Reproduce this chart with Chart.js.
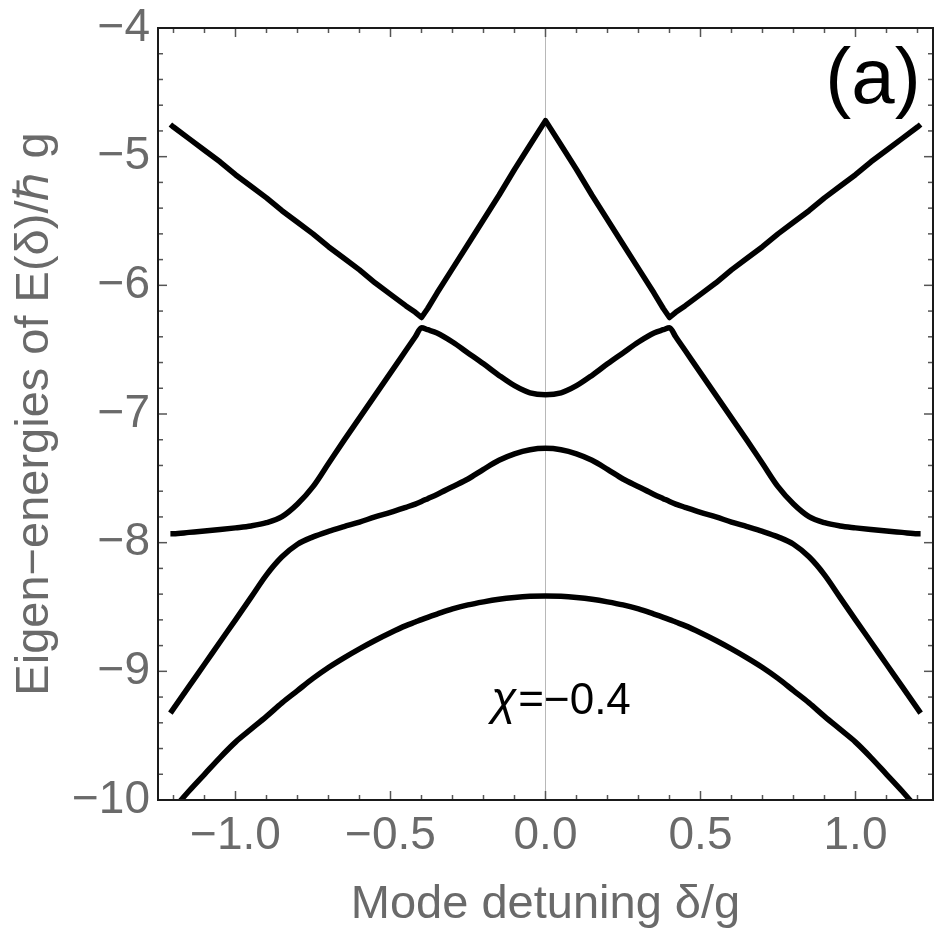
<!DOCTYPE html>
<html>
<head>
<meta charset="utf-8">
<script src="https://cdn.jsdelivr.net/npm/chart.js@4.4.1/dist/chart.umd.min.js"></script>
<style>
  html, body { margin: 0; padding: 0; background: #fff; }
  #wrap { width: 938px; height: 936px; }
</style>
</head>
<body>
<div id="wrap"><canvas id="energyChart" width="938" height="936"></canvas></div>
<script>
// mode detuning delta/g where the four eigen-energy curves were read
const detuning = [-1.21, -1.2, -1.15, -1.1, -1.05, -1.0, -0.95, -0.9, -0.85, -0.8, -0.75, -0.7, -0.65,
  -0.6, -0.55, -0.5, -0.45, -0.42, -0.4, -0.38, -0.35, -0.3, -0.25, -0.2, -0.15, -0.1, -0.05, 0,
  0.05, 0.1, 0.15, 0.2, 0.25, 0.3, 0.35, 0.38, 0.4, 0.42, 0.45, 0.5, 0.55, 0.6, 0.65, 0.7, 0.75,
  0.8, 0.85, 0.9, 0.95, 1.0, 1.05, 1.1, 1.15, 1.2, 1.21];

// E(delta)/hbar g, highest level first
const level1 = [-4.75, -4.77, -4.86, -4.95, -5.04, -5.14, -5.23, -5.32, -5.42, -5.51, -5.60, -5.70, -5.79,
  -5.88, -5.98, -6.07, -6.16, -6.21, -6.25, -6.18, -6.06, -5.87, -5.68, -5.49, -5.30, -5.10, -4.91, -4.72,
  -4.91, -5.10, -5.30, -5.49, -5.68, -5.87, -6.06, -6.18, -6.25, -6.21, -6.16, -6.07, -5.98, -5.88, -5.79, -5.70, -5.60,
  -5.51, -5.42, -5.32, -5.23, -5.14, -5.04, -4.95, -4.86, -4.77, -4.75];
const level2 = [-7.93, -7.93, -7.92, -7.91, -7.898, -7.885, -7.87, -7.845, -7.798, -7.70, -7.565, -7.385, -7.205,
  -7.03, -6.855, -6.68, -6.505, -6.40, -6.33, -6.345, -6.37, -6.44, -6.525, -6.61, -6.70, -6.78, -6.835, -6.85,
  -6.835, -6.78, -6.70, -6.61, -6.525, -6.44, -6.37, -6.345, -6.33, -6.40, -6.505, -6.68, -6.855, -7.03, -7.205, -7.385, -7.565,
  -7.70, -7.798, -7.845, -7.87, -7.885, -7.898, -7.91, -7.92, -7.93, -7.93];
const level3 = [-9.325, -9.29, -9.117, -8.945, -8.772, -8.60, -8.425, -8.25, -8.11, -8.012, -7.955, -7.912, -7.875,
  -7.84, -7.80, -7.765, -7.725, -7.70, -7.68, -7.658, -7.625, -7.565, -7.505, -7.43, -7.36, -7.31, -7.278, -7.267,
  -7.278, -7.31, -7.36, -7.43, -7.505, -7.565, -7.625, -7.658, -7.68, -7.70, -7.725, -7.765, -7.80, -7.84, -7.875, -7.912, -7.955,
  -8.012, -8.11, -8.25, -8.425, -8.60, -8.772, -8.945, -9.117, -9.29, -9.325];
const level4 = [-10.10, -10.07, -9.93, -9.80, -9.67, -9.55, -9.45, -9.35, -9.245, -9.15, -9.055, -8.97, -8.895,
  -8.825, -8.76, -8.70, -8.645, -8.617, -8.598, -8.58, -8.555, -8.515, -8.484, -8.46, -8.44, -8.426, -8.417, -8.414,
  -8.417, -8.426, -8.44, -8.46, -8.484, -8.515, -8.555, -8.58, -8.598, -8.617, -8.645, -8.70, -8.76, -8.825, -8.895, -8.97, -9.055,
  -9.15, -9.245, -9.35, -9.45, -9.55, -9.67, -9.80, -9.93, -10.07, -10.10];

const xTickValues = [-1.0, -0.5, 0, 0.5, 1.0];
const yTickValues = [-10, -9, -8, -7, -6, -5, -4];

const FONT = '"Liberation Sans", Arial, Helvetica, sans-serif';
const GRAY = '#6a6a6a';

function minusFmt(v, digits) {
  const s = Math.abs(v).toFixed(digits);
  return v < 0 ? '\u2212' + s : s;
}

// Mathematica-style frame: box, inward ticks on all sides, panel texts
const framePlugin = {
  id: 'frame',
  afterDatasetsDraw(chart) {
    const { ctx, chartArea: a, scales: { x, y } } = chart;
    ctx.save();
    ctx.strokeStyle = '#555';
    ctx.lineWidth = 1.5;
    const seg = (x1, y1, x2, y2) => { ctx.beginPath(); ctx.moveTo(x1, y1); ctx.lineTo(x2, y2); ctx.stroke(); };
    for (let i = -12; i <= 12; i++) {
      const px = x.getPixelForValue(i / 10);
      const len = i % 5 === 0 ? 9 : 5;
      seg(px, a.bottom, px, a.bottom - len);
      seg(px, a.top, px, a.top + len);
    }
    for (let i = -50; i <= -20; i++) {
      const py = y.getPixelForValue(i / 5);
      const len = i % 5 === 0 ? 9 : 5;
      seg(a.left, py, a.left + len, py);
      seg(a.right, py, a.right - len, py);
    }
    ctx.strokeStyle = '#1a1a1a';
    ctx.lineWidth = 2;
    ctx.strokeRect(a.left, a.top, a.right - a.left, a.bottom - a.top);

    // panel label
    ctx.fillStyle = '#000';
    ctx.font = '78px ' + FONT;
    ctx.textAlign = 'right';
    ctx.textBaseline = 'alphabetic';
    ctx.fillText('(a)', x.getPixelForValue(1.21), y.getPixelForValue(-4.585));

    // chi annotation
    const chiFont = 'italic 46px ' + FONT;
    const restFont = '44px ' + FONT;
    const rest = '=\u22120.4';
    ctx.font = chiFont;
    const wChi = ctx.measureText('\u03C7').width;
    ctx.font = restFont;
    const wRest = ctx.measureText(rest).width;
    const cx = x.getPixelForValue(0.05);
    const by = y.getPixelForValue(-9.33);
    const startX = cx - (wChi + wRest + 2) / 2;
    ctx.textAlign = 'left';
    ctx.font = chiFont;
    ctx.fillText('\u03C7', startX, by);
    ctx.font = restFont;
    ctx.fillText(rest, startX + wChi + 2, by);
    ctx.restore();
  }
};

const levels = [level1, level2, level3, level4];

new Chart(document.getElementById('energyChart'), {
  type: 'line',
  data: {
    datasets: levels.map((ys, k) => ({
      label: 'level ' + (k + 1),
      data: detuning.map((d, i) => ({ x: d, y: ys[i] })),
      borderColor: '#000',
      borderWidth: 5.5,
      borderJoinStyle: 'round',
      pointRadius: 0,
      tension: 0,
      // the top level is made of straight branches; the others bend smoothly
      cubicInterpolationMode: k === 0 ? 'default' : 'monotone',
      fill: false,
      clip: 0
    }))
  },
  options: {
    responsive: false,
    animation: false,
    devicePixelRatio: 1,
    layout: { padding: { top: 28, right: 5, left: 0, bottom: 0 } },
    plugins: { legend: { display: false }, tooltip: { enabled: false } },
    scales: {
      x: {
        type: 'linear',
        min: -1.25,
        max: 1.25,
        afterBuildTicks: (scale) => { scale.ticks = xTickValues.map(v => ({ value: v })); },
        afterFit: (scale) => { scale.height = 136; scale.paddingLeft = 0; scale.paddingRight = 0; },
        ticks: {
          autoSkip: false,
          maxRotation: 0,
          padding: 9,
          color: GRAY,
          font: { family: FONT, size: 46 },
          callback: (v) => minusFmt(v, 1)
        },
        grid: {
          drawTicks: false,
          lineWidth: 1,
          color: (c) => (c.tick && c.tick.value === 0 ? '#b8b8b8' : 'rgba(0,0,0,0)')
        },
        border: { display: false },
        title: {
          display: true,
          text: 'Mode detuning \u03B4/g',
          color: GRAY,
          font: { family: FONT, size: 47 },
          padding: { top: 0, bottom: 3 }
        }
      },
      y: {
        type: 'linear',
        min: -10,
        max: -4,
        afterBuildTicks: (scale) => { scale.ticks = yTickValues.map(v => ({ value: v })); },
        afterFit: (scale) => { scale.width = 158; scale.paddingTop = 0; scale.paddingBottom = 0; },
        ticks: {
          autoSkip: false,
          padding: 8,
          color: GRAY,
          font: { family: FONT, size: 46 },
          callback: (v) => minusFmt(v, 0)
        },
        grid: { drawOnChartArea: false, drawTicks: false },
        border: { display: false },
        title: {
          display: true,
          text: 'Eigen\u2212energies of E(\u03B4)/\u210F g',
          color: GRAY,
          font: { family: FONT, size: 47 },
          padding: { top: 7, bottom: 0 }
        }
      }
    }
  },
  plugins: [framePlugin]
});
</script>
</body>
</html>
